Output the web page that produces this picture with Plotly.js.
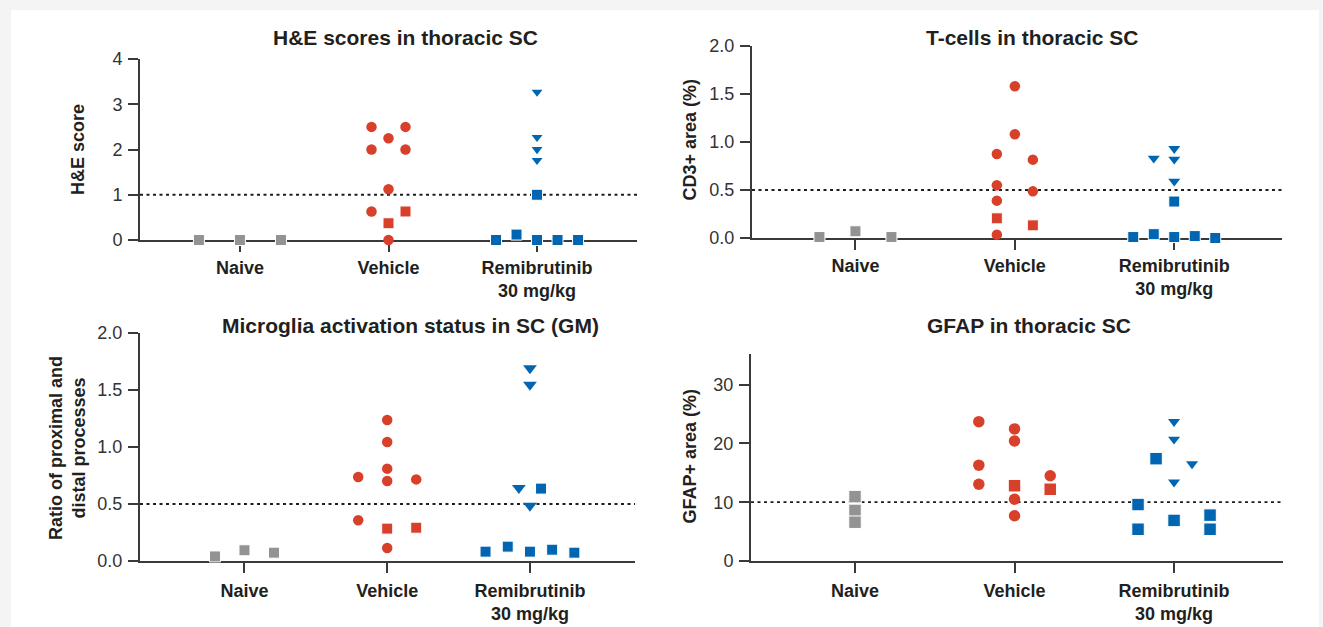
<!DOCTYPE html>
<html>
<head>
<meta charset="utf-8">
<script src="https://cdn.plot.ly/plotly-3.0.1.min.js"></script>
<style>
html,body{margin:0;padding:0;background:#f4f4f4;}
#chart{width:1323px;height:627px;}
</style>
</head>
<body>
<div id="chart"></div>
<script>
// ---------- categories / labels ----------
const categories = ['Naive', 'Vehicle', 'Remibrutinib<br>30 mg/kg'];
const panelTitles = ['H&E scores in thoracic SC', 'T-cells in thoracic SC',
  'Microglia activation status in SC (GM)', 'GFAP in thoracic SC'];
const yTitles = ['H&E score', 'CD3+ area (%)', 'Ratio of proximal and<br>distal processes', 'GFAP+ area (%)'];
const thresholds = [1, 0.5, 0.5, 10];

// ---------- Panel 1: H&E score ----------
const heNaiveSq = [0, 0, 0];
const heNaiveSqLane = [-1, 0, 1];
const heVehCirc = [2.5, 2.5, 2.25, 2.0, 2.0, 1.12, 0.63, 0.0];
const heVehCircLane = [-1, 1, 0, -1, 1, 0, -1, 0];
const heVehSq = [0.63, 0.37];
const heVehSqLane = [1, 0];
const heRemTri = [3.27, 2.27, 2.0, 1.76];
const heRemTriLane = [0, 0, 0, 0];
const heRemSq = [1.0, 0, 0.12, 0, 0, 0];
const heRemSqLane = [0, -2, -1, 0, 1, 2];

// ---------- Panel 2: CD3+ area ----------
const cdNaiveSq = [0.01, 0.07, 0.01];
const cdNaiveSqLane = [-1, 0, 1];
const cdVehCirc = [1.58, 1.08, 0.875, 0.816, 0.549, 0.486, 0.389, 0.035];
const cdVehCircLane = [0, 0, -1, 1, -1, 1, -1, -1];
const cdVehSq = [0.205, 0.132];
const cdVehSqLane = [-1, 1];
const cdRemTri = [0.83, 0.93, 0.82, 0.59];
const cdRemTriLane = [-1, 0, 0, 0];
const cdRemSq = [0.38, 0.01, 0.04, 0.01, 0.02, 0.0];
const cdRemSqLane = [0, -2, -1, 0, 1, 2];

// ---------- Panel 3: microglia ratio ----------
const mgNaiveSq = [0.04, 0.094, 0.073];
const mgNaiveSqLane = [-1, 0, 1];
const mgVehCirc = [1.237, 1.044, 0.81, 0.737, 0.702, 0.716, 0.357, 0.114];
const mgVehCircLane = [0, 0, 0, -1, 0, 1, -1, 0];
const mgVehSq = [0.284, 0.292];
const mgVehSqLane = [0, 1];
const mgRemTri = [1.69, 1.545, 0.64, 0.485];
const mgRemTriLane = [0, 0, -0.5, 0];
const mgRemSq = [0.635, 0.082, 0.126, 0.082, 0.099, 0.073];
const mgRemSqLane = [0.5, -2, -1, 0, 1, 2];

// ---------- Panel 4: GFAP+ area ----------
const gfNaiveSq = [10.95, 8.6, 6.6];
const gfNaiveSqLane = [0, 0, 0];
const gfVehCirc = [23.7, 22.46, 20.4, 16.3, 14.5, 13.05, 10.5, 7.7];
const gfVehCircLane = [-1, 0, 0, -1, 1, -1, 0, 0];
const gfVehSq = [12.8, 12.2];
const gfVehSqLane = [0, 1];
const gfRemTri = [23.7, 20.7, 16.5, 13.4];
const gfRemTriLane = [0, 0, 1, 0];
const gfRemSq = [17.4, 9.6, 5.4, 6.9, 7.8, 5.4];
const gfRemSqLane = [-1, -2, -2, 0, 2, 2];

// ---------- styles ----------
const FONT = 'Liberation Sans, Arial, Helvetica, sans-serif';
const COL = {naive: '#939393', veh: '#d8402c', rem: '#0066b2'};
const AX = '#3a3a3a';
const W = 1323, H = 627;

// panel geometry (pixels) and marker sizes
const panels = [
  {px0: 140, px1: 637, py0: 240, py1: 59,  xr: [-0.673, 2.673], yr: [0, 4],   catPx: 148.5, lane: [41, 17, 20.5],  tickvals: [0,1,2,3,4], fmt: 'd', sq: 11, ci: 10.5, tri: 9.5, standoff: 0},
  {px0: 752, px1: 1282, py0: 238, py1: 46, xr: [-0.649, 2.676], yr: [0, 2],   catPx: 159.4, lane: [36, 18, 20.5],  tickvals: [0,0.5,1,1.5,2], fmt: '.1f', sq: 11, ci: 10.5, tri: 10.5, standoff: 0},
  {px0: 140, px1: 635, py0: 561, py1: 333, xr: [-0.732, 2.736], yr: [0, 2],   catPx: 142.7, lane: [29.5, 29, 22.2], tickvals: [0,0.5,1,1.5,2], fmt: '.1f', sq: 11, ci: 10.5, tri: 12, standoff: 2},
  {px0: 751, px1: 1283, py0: 561, py1: 354, xr: [-0.652, 2.683], yr: [0, 35.2], catPx: 159.5, lane: [0, 35.7, 18], tickvals: [0,10,20,30], fmt: 'd', sq: 12.5, ci: 11.5, tri: 10.5, standoff: 2}
];

const panelData = [
  [[heNaiveSq, heNaiveSqLane, 'square', 0], [heVehCirc, heVehCircLane, 'circle', 1], [heVehSq, heVehSqLane, 'square', 1], [heRemTri, heRemTriLane, 'triangle-down', 2], [heRemSq, heRemSqLane, 'square', 2]],
  [[cdNaiveSq, cdNaiveSqLane, 'square', 0], [cdVehCirc, cdVehCircLane, 'circle', 1], [cdVehSq, cdVehSqLane, 'square', 1], [cdRemTri, cdRemTriLane, 'triangle-down', 2], [cdRemSq, cdRemSqLane, 'square', 2]],
  [[mgNaiveSq, mgNaiveSqLane, 'square', 0], [mgVehCirc, mgVehCircLane, 'circle', 1], [mgVehSq, mgVehSqLane, 'square', 1], [mgRemTri, mgRemTriLane, 'triangle-down', 2], [mgRemSq, mgRemSqLane, 'square', 2]],
  [[gfNaiveSq, gfNaiveSqLane, 'square', 0], [gfVehCirc, gfVehCircLane, 'circle', 1], [gfVehSq, gfVehSqLane, 'square', 1], [gfRemTri, gfRemTriLane, 'triangle-down', 2], [gfRemSq, gfRemSqLane, 'square', 2]]
];
const groupColors = [COL.naive, COL.veh, COL.rem];

const traces = [];
const layout = {
  width: W, height: H,
  margin: {l: 0, r: 0, t: 0, b: 0, autoexpand: false},
  paper_bgcolor: '#f4f4f4',
  plot_bgcolor: 'rgba(0,0,0,0)',
  showlegend: false,
  font: {family: FONT, color: '#231f20'},
  shapes: [
    {type: 'rect', xref: 'paper', yref: 'paper', x0: 11 / W, x1: 1319 / W, y0: 0, y1: 1 - 10 / H,
     fillcolor: '#ffffff', line: {width: 0}, layer: 'below'}
  ],
  annotations: []
};

const titlePos = [[405, 37], [1032, 37], [410, 325], [1029, 325]];
const yTitlePos = [[78, 150], [689.5, 140], [67, 448], [689.5, 456]];

panels.forEach((p, i) => {
  const n = i + 1;
  const xa = 'x' + (n === 1 ? '' : n), ya = 'y' + (n === 1 ? '' : n);
  const xkey = 'xaxis' + (n === 1 ? '' : n), ykey = 'yaxis' + (n === 1 ? '' : n);

  panelData[i].forEach(([vals, lanes, sym, cat]) => {
    const xs = lanes.map(l => cat + l * p.lane[cat] / p.catPx);
    const size = sym === 'triangle-down' ? p.tri : (sym === 'circle' ? p.ci : p.sq);
    traces.push({
      type: 'scatter', mode: 'markers', xaxis: xa, yaxis: ya,
      x: xs, y: vals, cliponaxis: false, hoverinfo: 'skip',
      marker: {symbol: sym, color: groupColors[cat], size: size,
               line: {color: '#ffffff', width: sym === 'square' ? 1 : 0}}
    });
  });

  layout[xkey] = {
    domain: [p.px0 / W, p.px1 / W], anchor: ya, range: p.xr,
    tickmode: 'array', tickvals: [0, 1, 2], ticktext: categories,
    ticks: 'outside', ticklen: 10, tickwidth: 2, tickcolor: AX,
    showline: true, linewidth: 2, linecolor: AX, showgrid: false, zeroline: false,
    tickfont: {family: FONT, size: 18, color: '#231f20', weight: 700},
    ticklabelstandoff: p.standoff,
    automargin: false, fixedrange: true, layer: 'below traces'
  };
  layout[ykey] = {
    domain: [1 - p.py0 / H, 1 - p.py1 / H], anchor: xa, range: p.yr,
    tickmode: 'array', tickvals: p.tickvals,
    ticktext: p.tickvals.map(v => p.fmt === 'd' ? String(v) : v.toFixed(1)),
    ticks: 'outside', ticklen: 10, tickwidth: 2, tickcolor: AX,
    showline: true, linewidth: 2, linecolor: AX, showgrid: false, zeroline: false,
    tickfont: {family: FONT, size: 18, color: '#333333'},
    ticklabelstandoff: 2,
    automargin: false, fixedrange: true, layer: 'below traces'
  };

  layout.shapes.push({
    type: 'line', xref: xa + ' domain', yref: ya, x0: 0, x1: 1, y0: thresholds[i], y1: thresholds[i],
    line: {color: '#1e1e1e', width: 1.8, dash: '3px,3.5px'}, layer: 'below'
  });

  layout.annotations.push({
    xref: 'paper', yref: 'paper', x: titlePos[i][0] / W, y: 1 - titlePos[i][1] / H,
    xanchor: 'center', yanchor: 'middle', showarrow: false,
    text: '<b>' + panelTitles[i] + '</b>', font: {family: FONT, size: 21, color: '#231f20'}
  });
  layout.annotations.push({
    xref: 'paper', yref: 'paper', x: yTitlePos[i][0] / W, y: 1 - yTitlePos[i][1] / H,
    xanchor: 'center', yanchor: 'middle', showarrow: false, textangle: -90,
    text: '<b>' + yTitles[i] + '</b>', font: {family: FONT, size: 18, color: '#231f20'}
  });
});

Plotly.newPlot('chart', traces, layout, {displayModeBar: false, staticPlot: true});
</script>
</body>
</html>
